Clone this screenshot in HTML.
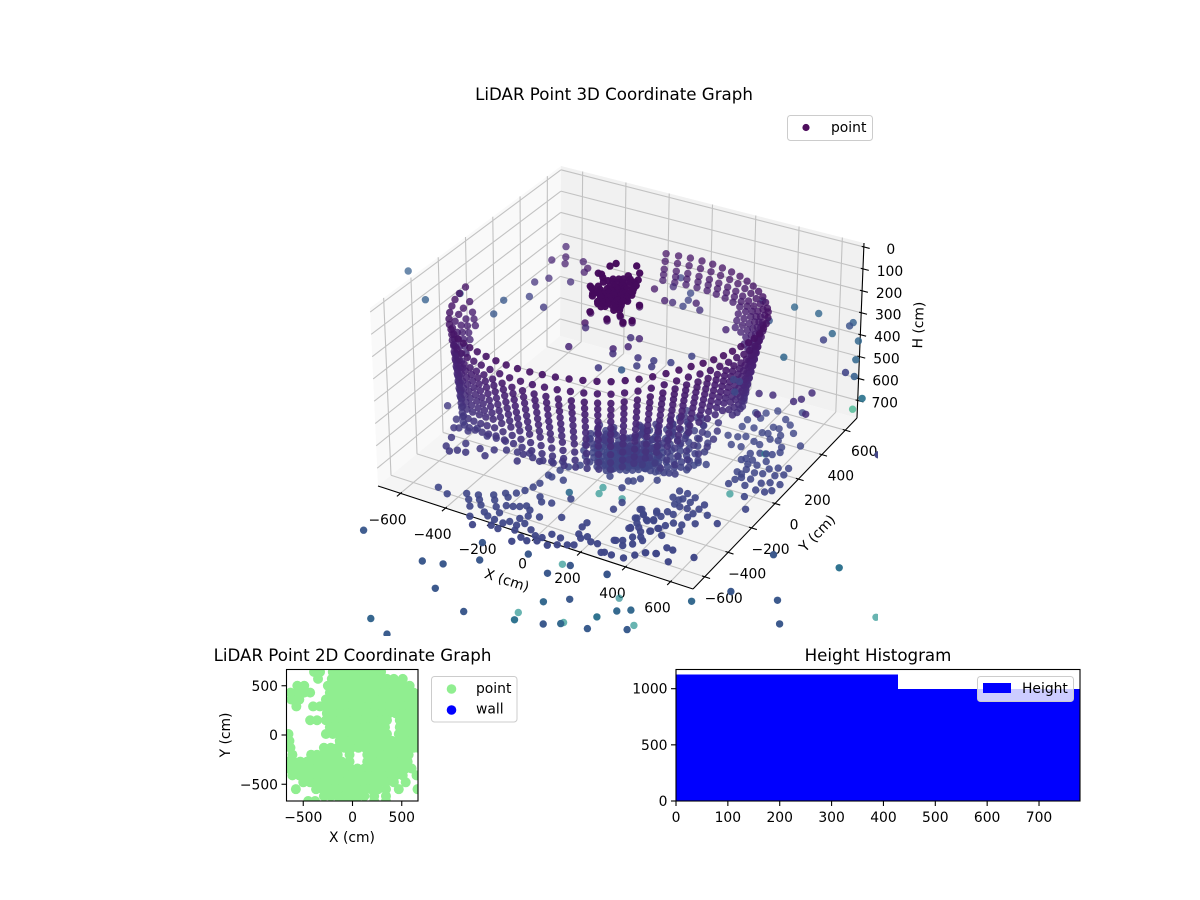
<!DOCTYPE html>
<html>
<head>
<meta charset="utf-8">
<title>LiDAR Point Graphs</title>
<style>
html,body{margin:0;padding:0;background:#fff;}
svg{display:block;}
text{font-family:"DejaVu Sans","Liberation Sans",sans-serif;fill:#000;}
.t{font-size:16.67px;text-anchor:middle;}
.l{font-size:13.89px;}
</style>
</head>
<body>
<svg id="fig" xmlns="http://www.w3.org/2000/svg" width="1200" height="900" viewBox="0 0 1200 900">
  <defs>
    <clipPath id="clip3d"><rect x="322" y="108" width="556" height="528"/></clipPath>
    <clipPath id="clip2d"><rect x="287" y="670" width="131" height="131"/></clipPath>
    <clipPath id="cliphist"><rect x="676" y="669.5" width="404" height="131.5"/></clipPath>
  </defs>
  <rect width="1200" height="900" fill="#fff"/>
  <text class="t" x="614" y="100">LiDAR Point 3D Coordinate Graph</text>
  <g id="axes3d"></g>
  <g id="points3d" clip-path="url(#clip3d)"></g>
  <g>
    <rect x="787.5" y="115.5" width="85" height="25" rx="3" fill="#fff" fill-opacity="0.8" stroke="#ccc"/>
    <circle cx="806" cy="127.5" r="3.6" fill="#440154" fill-opacity="0.95"/>
    <text class="l" x="831" y="132">point</text>
  </g>
  <text class="t" x="352.5" y="661">LiDAR Point 2D Coordinate Graph</text>
  <g id="plan" clip-path="url(#clip2d)"></g>
  <g id="plan-axes"></g>
  <rect x="286.5" y="669.5" width="131.5" height="131.5" fill="none" stroke="#000" stroke-width="1.1"/>
  <text class="l" x="352" y="842" text-anchor="middle">X (cm)</text>
  <text class="l" transform="translate(230,735) rotate(-90)" text-anchor="middle">Y (cm)</text>
  <g>
    <rect x="431.5" y="676.5" width="85.5" height="45.5" rx="3" fill="#fff" stroke="#ccc"/>
    <circle cx="451.5" cy="689" r="4.8" fill="#90ee90"/>
    <circle cx="451.5" cy="710" r="4.8" fill="#0000ff"/>
    <text class="l" x="476" y="693">point</text>
    <text class="l" x="476" y="713.5">wall</text>
  </g>
  <text class="t" x="878" y="661">Height Histogram</text>
  <g id="hist" clip-path="url(#cliphist)" shape-rendering="crispEdges"></g>
  <g id="hist-axes"></g>
  <rect x="676" y="669.5" width="404" height="131.5" fill="none" stroke="#000" stroke-width="1.1"/>
  <g>
    <rect x="977.5" y="676.5" width="96" height="25" rx="3" fill="#fff" fill-opacity="0.8" stroke="#ccc"/>
    <rect x="983" y="683" width="28" height="10" fill="#0000ff"/>
    <text class="l" x="1022" y="693">Height</text>
  </g>
</svg>
<script>
/* ---------- 3D chart data (cm) ---------- */
const xTicks3d = [-600,-400,-200,0,200,400,600];
const yTicks3d = [-600,-400,-200,0,200,400,600];
const hTicks3d = [0,100,200,300,400,500,600,700];

/* wall scan columns: rim position of each column */
const wallRimX = [-61,-8,43,96,147,197,246,293,338,379,419,455,487,516,541,562,579,591,599,601,600,593,582,567,549,526,497,466,431,393,352,308,262,214,164,113,61,8,-43,-96,-147,-197,-246,-293,-338,-379,-419,-455,-487,-516,-541,-562,-579,-591,-599,-601];
const wallRimY = [540,548,554,555,552,543,532,517,496,473,446,416,382,345,306,265,220,176,130,81,34,-15,-64,-111,-158,-203,-248,-290,-330,-368,-403,-434,-463,-488,-509,-526,-540,-548,-554,-555,-552,-543,-532,-517,-496,-473,-446,-416,-382,-345,-306,-265,-220,-176,-130,-81];
const wallPointCount = [3,3,3,3,3,3,3,3,6,6,7,7,8,9,12,12,12,12,12,12,11,11,11,11,11,12,13,13,13,13,13,13,13,13,13,13,13,13,13,13,13,12,12,12,12,12,12,12,12,12,12,10,8,7,6,5];
const wallDepthScale = [1,1,1,1,1,1,1,1,1,1,1,1,1,1,.95,.95,.95,.93,.92,.9,.88,.85,.85,.85,.85,.85,.85,.87,.9,.93,.96,.98,1,1,1,1,1,1,1,1,1,1,1,1,1.02,1.04,1.06,1.08,1.1,1.12,1.12,1.1,1.08,1.05,1.03,1];
const wallTaper = [1,1,1,1,1,1,1,1,1,1,1,1,1,1,1,1,1,1,1,1,1,1,1,1,1,1,1,1,1,1,1,1,1,1,1,1,1,1,1,1,1,1,.95,.9,.85,.8,.7,.6,.5,.5,.5,.5,.6,.7,.8,.9];
const wallLevelH = [185,248,294,324,353,383,413,442,472,502,541,579,612];
const wallLevelReach = [1,.97,.95,.94,.93,.92,.91,.9,.89,.88,.87,.86,.85];
const wallCenterX = -77;
const wallCenterY = 38;
/* additional close-spaced returns on the back wall */
const backWallColumns = [0,1,2,3,4,5,6,7,8,9,10,11,12,13];
const backWallLevelH = [216,271];
const backWallLevelReach = [.985,.96];

/* floor bowl under the scanner: rings of samples */
const bowlRingR = [35,70,105,140,175,210,245,280,320,20,50,85,120,60,120,180,240,300,360,90,150];
const bowlRingH = [775,770,765,760,750,740,730,715,700,772,772,770,768,660,660,650,650,640,630,690,690];
const bowlRingTheta = [
  [0,30,60,90,120,150,180,210,240,270,300,330],
  [10,30,50,70,90,110,130,150,170,190,210,230,250,270,290,310,330,350],
  [0,20,40,60,80,100,120,140,160,180,200,220,240,260,280,300,320,340],
  [-30,-15,0,15,30,45,60,75,90,150,165,180,195,210,225,240,255,270],
  [-30,-15,0,15,30,45,60,75,90,150,165,180,195,210,225,240,255,270],
  [-25,-12,0,12,24,36,48,60,72],
  [-25,-12,0,12,24,36,48,60,72],
  [-25,-12,0,12,24,36,48,60,72],
  [-25,-12,0,12,24,36,48,60,72],
  [0,24,48,72,96,120,144,168,192,216,240,264,288,312,336],
  [8,23,38,53,68,83,98,113,128,143,158,173,188,203,218,233,248,263,278,293,308,323,338,353],
  [-90,-75,-60,-45,-30,-15,0,15,30,45,60,135,150,165,180,195,210,225,240,255,270],
  [-100,-88,-76,-64,-52,-40,-28,-16,-4,8,20,32,44,56,160,175,190,205,220,235,250],
  [-80,-65,-50,-35,-20,-5,10,25,40,55,70,190,205,220,235,250],
  [-80,-68,-56,-44,-32,-20,-8,4,16,28,40,52,190,205,220,235,250],
  [-70,-60,-50,-40,-30,-20,-10,0,10,20,30,40,50],
  [-60,-50,-40,-30,-20,-10,0,10,20,30,40,50],
  [-50,-40,-30,-20,-10,0,10,20,30,40],
  [-40,-30,-20,-10,0,10,20,30],
  [195,210,225,240,255,270],
  [200,215,230,245]
];

/* overhead cluster */
const starH = 90;
const starShiftX = 0;
const starShiftY = 10;
const starX = [-99,-98,-75,-96,-66,-51,-94,-58,-35,-99,-56,-26,-12,5,19,-95,-91,-71,-47,-43,-10,-14,-117,-134,-138,-81,-71,-47,-57,-129,-140,-189,-204,-194,-184,-103,-63,-24,0,-177,67,-74,12,43,79,103,-80,-60,-40,-30,-110,-85,-80,-70,-85,-70,-45,-40,-60,-30,-20,-40,-75,-50,-25,-5,10,-20,-110,-80,-55,-120,-90,-65,0,-10,-120,-110,-150,-150,-130,-70,-40,-20,0,-5,-25,-45,-100,-130,-160,-170,-30,10,-60,-90];
const starY = [126,96,108,66,67,92,37,26,38,18,-4,-3,-41,-32,-70,159,191,142,124,158,85,66,24,15,-4,-64,-43,-45,-81,139,118,152,153,226,256,277,232,137,-81,45,3,-137,-157,-108,-149,-120,50,50,60,0,60,0,80,110,50,40,60,90,90,60,20,10,5,-20,-30,-60,-50,100,80,130,150,10,-20,-30,20,40,120,150,100,60,40,170,180,110,60,0,-50,-70,-10,-20,30,130,140,10,-60,-50];

/* near-wall floor samples */
const nearWallH = 640;
const nearWallX = [-666,-583,-540,-557,-498,-479,-415,-377,-335,-527,-511,-457,-458,-481,-423,-390,-339,-347,-298,-254,-209,-221,-146,-105,-68];
const nearWallY = [-216,-290,-344,-354,-346,-308,-341,-336,-338,-424,-493,-435,-498,-520,-495,-440,-419,-477,-395,-386,-369,-446,-402,-378,-356];

/* floor patches */
const floorH = 780;
const floorX = [-501,-448,-386,-342,-292,-259,-236,-224,-205,-190,-182,-184,-163,-147,-113,-357,-321,-270,-211,-186,-163,-143,-328,-296,-240,-117,-260,-207,-291,-234,-199,-252,-189,-159,-155,-142,-120,-101,-60,-70,-132,-108,-166,-115,-21,15,119,117,131,198,-106,-85,-42,-94,-49,-64,-17,-7,22,43,84,131,153,17,66,97,152,169,227,280,312,269,277,363,391,419,457,285,271,257,280,315,337,314,331,363,381,160,165,112,363,271,300,318,322,279,346,350,368,420,459,475,503,527,600,265,289,310,251,280,309,282,360,378,415,333,320,347,394,462,413,448,353,382,351,322,321,351,378,359,361,400,399,410,453,457,448,441,503,490,566,467,475,491,531,529,585,581,624,645,611,604,653,633,628,589,560,553,521,480,479,456,467,503,523,520,541,528,492,457,496,471,437,440,427,469,439,405,358,304,310,360,407,429,426,346,482,452,521,592,442,382,347,308,479,479,332,337,292,380,568,616,271,320,286,280,206,143,126,109,29,11,169,127,120];
const floorY = [-578,-602,-558,-543,-511,-475,-496,-451,-416,-377,-338,-266,-210,-171,-137,-593,-572,-542,-554,-545,-532,-514,-635,-604,-583,-534,-642,-616,-701,-661,-670,-750,-714,-675,-722,-651,-609,-576,-559,-443,-426,-456,-271,-269,-376,-515,-498,-534,-587,-612,-660,-632,-660,-696,-729,-775,-739,-689,-687,-645,-650,-681,-667,-719,-725,-701,-610,-586,-610,-651,-653,-658,-551,-647,-606,-570,-553,-444,-365,-300,-329,-362,-348,-281,-446,-421,-387,-356,-295,-200,-784,-554,-537,-570,-496,-447,-540,-479,-498,-569,-552,-494,-497,-580,-501,-368,-398,-422,-303,-329,-357,-439,-423,-389,-426,-342,-292,-306,-356,-363,-324,-319,-263,-269,-200,-106,-159,-165,-207,-107,-150,-119,-158,-204,-184,-146,-225,-258,-207,-285,-240,38,77,102,58,109,49,103,53,75,123,177,130,199,249,232,209,167,157,163,124,130,199,211,252,308,336,372,409,404,301,294,274,233,217,235,349,431,447,489,434,376,359,437,487,523,447,488,485,416,561,602,567,550,635,533,359,296,350,300,-15,-94,45,118,113,89,-81,-104,-133,-143,-149,-98,-30,-1,-29];

/* back-right floor samples */
const backH = 500;
const backX = [528,625,645,660,714,473,543];
const backY = [284,280,309,371,218,269,127];

/* high stray returns */
const upperH = 300;
const upperX = [-1048,-865,-778,-603,-579,-533,-440,-577,-545,-455,-614,-624,-579,-552,-498,-454,-449,-360,-256,-168,-235,-213,-102,-75,-139,-113,-135,-194,-36,-17,7,14,-20,84,111,149,165,-11,75,-51,-16,36,30,10,70,110,-78,-88,279,297,398,436,548,707,708,673,665,795,588,854,863,909,1014,1018,1262,263,215,495,523,545];
const upperY = [136,-35,78,115,-1,192,144,305,360,375,495,618,543,494,543,504,470,374,194,171,114,81,181,206,224,331,485,-83,-12,-47,32,109,99,-26,-84,-16,-61,-172,-141,422,424,417,469,522,463,422,536,612,335,603,477,618,618,589,618,505,446,502,254,370,265,254,121,31,-225,87,4,7,5,-75];
const upperTone = [.3,.3,.3,.27,.27,.2,.17,.15,.13,.13,.1,.1,.08,.08,.08,.06,.08,.05,.05,.05,.05,.13,.05,.05,.06,.05,.06,.1,.1,.14,.1,.1,.14,.16,.18,.18,.18,.17,.28,.08,.13,.2,.2,.22,.08,.14,.13,.2,.1,.25,.27,.33,.33,.25,.3,.33,.2,.33,.33,.33,.2,.3,.38,.62,.2,.2,.2,.2,.2,.22];

/* returns beyond the floor */
const outerH = 780;
const outerX = [-578,-281,-205,-102,-155,-144,25,-240,-137,35,164,182,212,364,247,324,202,214,320,375,381,478,471,517,483,561,611,620,865,1138,837,1025,1105,1420,735,824,938,1470,508,46,55,152,-50,492];
const outerY = [-1025,-1096,-1069,-964,-846,-1243,-1328,-1580,-1643,-822,-904,-815,-806,-786,-1093,-1021,-1215,-1269,-1233,-1193,-1180,-1167,-1074,-995,-910,-960,-1089,-1049,-325,-279,-639,-600,-740,-510,-779,-1060,-1011,-670,-26,-236,-284,-271,-337,299];
const outerTone = [.27,.27,.27,.27,.27,.27,.27,.32,.28,.27,.27,.5,.27,.27,.33,.27,.5,.37,.27,.33,.5,.28,.37,.33,.46,.33,.28,.5,.27,.37,.27,.27,.27,.5,.33,.38,.27,.45,.5,.5,.5,.5,.35,.5];

const colorScaleMax = 3700;

/* ---------- 2D chart data (cm) ---------- */
const planTicks = [-500,0,500];
const planRowY = [640,570,500,430,360,290,220,150,80,10,-60,-130,-200,-270,-340,-410,-480,-550,-620,-670];
const planRowX = [
 [-390,-330,-200,-130,-60,10,80,150,220,290],
 [-350,-210,-140,-70,0,70,140,210,280,350,420,510],
 [-560,-490,-250,-180,-110,-40,30,100,170,240,310,380,450,520,580],
 [-630,-560,-490,-430,-230,-160,-90,-20,50,120,190,260,330,400,470,540,620],
 [-620,-540,-270,-200,-130,-60,10,80,150,220,290,360,430,500,570,640],
 [-570,-400,-330,-260,-190,-120,-50,20,90,160,230,300,370,440,510,580,650],
 [-260,-190,-120,-50,20,90,160,230,300,370,440,510,580,650],
 [-430,-360,-270,-200,-130,-60,10,80,150,220,290,350,480,550,620,670],
 [-230,-160,-90,-20,50,120,190,260,330,480,550,620,670],
 [-650,-270,-200,-130,-60,10,80,150,220,290,350,470,540,610,670],
 [-640,-130,-60,-20,50,120,190,260,330,400,470,540,610,670],
 [-630,-290,-220,-150,-80,-10,60,130,200,270,340,410,480,550,620,670],
 [-610,-420,-360,-290,-220,-150,-30,150,220,290,360,430,500,570],
 [-660,-600,-530,-460,-390,-320,-250,-180,-110,-30,150,220,290,360,430,500,560],
 [-650,-580,-510,-440,-370,-300,-230,-160,-90,-20,50,120,190,260,330,400,470,540,600],
 [-610,-540,-470,-400,-330,-260,-190,-120,-50,20,90,160,230,300,370,440,510,650],
 [-500,-430,-360,-290,-220,-150,-80,-10,60,130,200,270,340,420,540],
 [-575,-370,-300,-230,-160,-90,-20,50,120,190,260,340,470,660],
 [-290,-220,-150,-80,-10,60,120,220,340],
 [-450,-380,-130,-60,10,220,340]
];

/* ---------- Histogram data ---------- */
const histEdges = [0,428,856];
const histCounts = [1125,997];
const histXTicks = [0,100,200,300,400,500,600,700];
const histYTicks = [0,500,1000];

/* ---------- helpers ---------- */
const NS = 'http://www.w3.org/2000/svg';
function make(parent, tag, attrs, text){
  const el = document.createElementNS(NS, tag);
  for (const k in attrs) el.setAttribute(k, attrs[k]);
  if (text !== undefined) el.textContent = text;
  parent.appendChild(el);
  return el;
}
function fmt(v){ return String(v).replace('-', '\u2212'); }

/* ---------- 3D axis functions ---------- */
const boxMin = -700, boxMax = 700, hTop = -18, hBottom = 780;
const cTopA=[370,308], cTopB=[697,397], cTopC=[864,243], cTopD=[561,166];
const cBotA=[378,486], cBotB=[693,589], cBotC=[857,418], cBotD=[560,336];
function project(x,y,h){
  const u=(x-boxMin)/(boxMax-boxMin), v=(y-boxMin)/(boxMax-boxMin), w=(h-hTop)/(hBottom-hTop);
  const out=[0,0];
  for(let i=0;i<2;i++){
    const top=cTopA[i]*(1-u)*(1-v)+cTopB[i]*u*(1-v)+cTopC[i]*u*v+cTopD[i]*(1-u)*v;
    const bot=cBotA[i]*(1-u)*(1-v)+cBotB[i]*u*(1-v)+cBotC[i]*u*v+cBotD[i]*(1-u)*v;
    out[i]=top*(1-w)+bot*w;
  }
  return out;
}
const viridisStops = ['#440154','#482475','#414487','#355f8d','#2a788e','#21918c','#22a884','#44bf70','#7ad151','#bddf26','#fde725'];
function viridis(t){
  t=Math.max(0,Math.min(1,t))*10;
  const i=Math.min(9,Math.floor(t)), f=t-i;
  const a=viridisStops[i], b=viridisStops[i+1];
  const ch=p=>Math.round(parseInt(a.substr(p,2),16)*(1-f)+parseInt(b.substr(p,2),16)*f);
  return 'rgb('+ch(1)+','+ch(3)+','+ch(5)+')';
}

/* ---------- panes, grid, ticks ---------- */
const axes3d = document.getElementById('axes3d');
function poly(name, pts, fill){
  const el = make(axes3d,'polygon',{points:pts.map(p=>p.join(',')).join(' '),fill:fill});
  
  
}
poly('pane-left',[cBotA,cTopA,cTopD,cBotD],'#f9f9f9');
poly('pane-back',[cBotD,cTopD,cTopC,cBotC],'#f1f1f1');
poly('pane-floor',[cBotA,cBotB,cBotC,cBotD],'#f5f5f5');
function seg(name,a,b,color,width){
  const el = make(axes3d,'line',{x1:a[0],y1:a[1],x2:b[0],y2:b[1],stroke:color,'stroke-width':width});
  
  
}
const gridColor='#c2c2c2';
xTicks3d.forEach(x=>{
  seg('x-grid-floor',project(x,boxMin,hBottom),project(x,boxMax,hBottom),gridColor,1.1);
  seg('x-grid-back',project(x,boxMax,hBottom),project(x,boxMax,hTop),gridColor,1.1);
});
yTicks3d.forEach(y=>{
  seg('y-grid-floor',project(boxMin,y,hBottom),project(boxMax,y,hBottom),gridColor,1.1);
  seg('y-grid-left',project(boxMin,y,hBottom),project(boxMin,y,hTop),gridColor,1.1);
});
hTicks3d.forEach(h=>{
  seg('h-grid-left',project(boxMin,boxMin,h),project(boxMin,boxMax,h),gridColor,1.1);
  seg('h-grid-back',project(boxMin,boxMax,h),project(boxMax,boxMax,h),gridColor,1.1);
});
seg('x-axis-line',cBotA,cBotB,'#000',1.1);
seg('y-axis-line',cBotB,cBotC,'#000',1.1);
seg('h-axis-line',cBotC,cTopC,'#000',1.1);
function tickLabel(name,p,dx,dy,str){
  const el = make(axes3d,'text',{x:p[0]+dx,y:p[1]+dy+5,'text-anchor':'middle',class:'l'},str);
  
  
}
xTicks3d.forEach(x=>{
  seg('x-tick',project(x,boxMin-28,hBottom),project(x,boxMin+10,hBottom),'#000',1.1);
  tickLabel('x-tick-label',project(x,boxMin,hBottom),-13,26,fmt(x));
});
yTicks3d.forEach(y=>{
  seg('y-tick',project(boxMax-12,y,hBottom),project(boxMax+24,y,hBottom),'#000',1.1);
  tickLabel('y-tick-label',project(boxMax,y,hBottom),19,21,fmt(y));
});
hTicks3d.forEach(h=>{
  seg('h-tick',project(boxMax-10,boxMax,h),project(boxMax+27,boxMax,h),'#000',1.1);
  tickLabel('h-tick-label',project(boxMax,boxMax,h),27,2,fmt(h));
});
const xTitle = make(axes3d,'text',{class:'l','text-anchor':'middle',transform:'translate(507,580) rotate(18)',dy:'5'},'X (cm)');


const yTitle = make(axes3d,'text',{class:'l','text-anchor':'middle',transform:'translate(817,533) rotate(-46)',dy:'5'},'Y (cm)');


const hTitle = make(axes3d,'text',{class:'l','text-anchor':'middle',transform:'translate(918,325) rotate(-88)',dy:'5'},'H (cm)');



/* ---------- 3D points ---------- */
const marks = [];
function addMark(x,y,h,tone){ marks.push({x:x,y:y,h:h,tone:tone===undefined?h/colorScaleMax:tone}); }
wallRimX.forEach((rx,i)=>{
  for(let j=0;j<wallPointCount[i];j++){
    const reach=1-(1-wallLevelReach[j])*wallTaper[i];
    addMark(wallCenterX+rx*reach, wallCenterY+wallRimY[i]*reach, wallLevelH[j]*wallDepthScale[i]);
  }
});
backWallColumns.forEach(i=>{
  backWallLevelH.forEach((h,j)=>{
    addMark(wallCenterX+wallRimX[i]*backWallLevelReach[j], wallCenterY+wallRimY[i]*backWallLevelReach[j], h*wallDepthScale[i]);
  });
});
bowlRingR.forEach((r,k)=>{
  bowlRingTheta[k].forEach(deg=>{
    const a=deg*Math.PI/180;
    addMark(20+r*Math.cos(a),12+r*Math.sin(a),bowlRingH[k]);
  });
});
starX.forEach((x,i)=>addMark(x+starShiftX,starY[i]+starShiftY,starH));
nearWallX.forEach((x,i)=>addMark(x,nearWallY[i],nearWallH));
floorX.forEach((x,i)=>addMark(x,floorY[i],floorH));
backX.forEach((x,i)=>addMark(x,backY[i],backH));
upperX.forEach((x,i)=>addMark(x,upperY[i],upperH,upperTone[i]));
outerX.forEach((x,i)=>addMark(x,outerY[i],outerH,outerTone[i]));
marks.forEach(m=>{ m.depth=m.x*0.5-m.y*0.866; });
marks.sort((a,b)=>a.depth-b.depth);
const pointsG = document.getElementById('points3d');
marks.forEach(m=>{
  const p=project(m.x,m.y,m.h);
  const t=Math.max(0,Math.min(1,(m.depth+700)/1400));
  let alpha=0.72+0.26*t;
  if(m.tone>0.42) alpha=0.68;
  if(m.h<150) alpha=0.98;
  const el = make(pointsG,'circle',{cx:p[0].toFixed(1),cy:p[1].toFixed(1),r:3.7,fill:viridis(m.tone),'fill-opacity':alpha.toFixed(2)});
  
  
});

/* ---------- 2D chart ---------- */
const planG = document.getElementById('plan');
const planAxes = document.getElementById('plan-axes');
function planSX(v){ return 352.5+v*0.0985; }
function planSY(v){ return 735-v*0.0985; }
planRowY.forEach((y,i)=>{
  planRowX[i].forEach(x=>{
    const el = make(planG,'circle',{cx:planSX(x),cy:planSY(y),r:5,fill:'#90ee90'});
    
    
  });
});
planTicks.forEach(v=>{
  const sx=planSX(v), sy=planSY(v);
  const a = make(planAxes,'line',{x1:sx,y1:801,x2:sx,y2:806,stroke:'#000','stroke-width':1.1});
  
  
  const b = make(planAxes,'text',{x:sx,y:822,'text-anchor':'middle',class:'l'},fmt(v));
  
  
  const c = make(planAxes,'line',{x1:281.5,y1:sy,x2:286.5,y2:sy,stroke:'#000','stroke-width':1.1});
  
  
  const d = make(planAxes,'text',{x:278,y:sy+5,'text-anchor':'end',class:'l'},fmt(v));
  
  
});

/* ---------- Histogram ---------- */
const histG = document.getElementById('hist');
const histAxes = document.getElementById('hist-axes');
function histSX(v){ return 676+v*0.5186; }
function histSY(v){ return 801-v*0.1123; }
histCounts.forEach((c,i)=>{
  const x0=Math.round(histSX(histEdges[i])), x1=Math.round(histSX(histEdges[i+1]));
  const el = make(histG,'rect',{x:x0,y:histSY(c),width:x1-x0,height:801-histSY(c),fill:'#0000ff'});
  
  
});
histXTicks.forEach(v=>{
  const sx=histSX(v);
  const a = make(histAxes,'line',{x1:sx,y1:801,x2:sx,y2:806,stroke:'#000','stroke-width':1.1});
  
  
  const b = make(histAxes,'text',{x:sx,y:822,'text-anchor':'middle',class:'l'},fmt(v));
  
  
});
histYTicks.forEach(v=>{
  const sy=histSY(v);
  const a = make(histAxes,'line',{x1:671,y1:sy,x2:676,y2:sy,stroke:'#000','stroke-width':1.1});
  
  
  const b = make(histAxes,'text',{x:667.5,y:sy+5,'text-anchor':'end',class:'l'},fmt(v));
  
  
});
</script>
</body>
</html>
